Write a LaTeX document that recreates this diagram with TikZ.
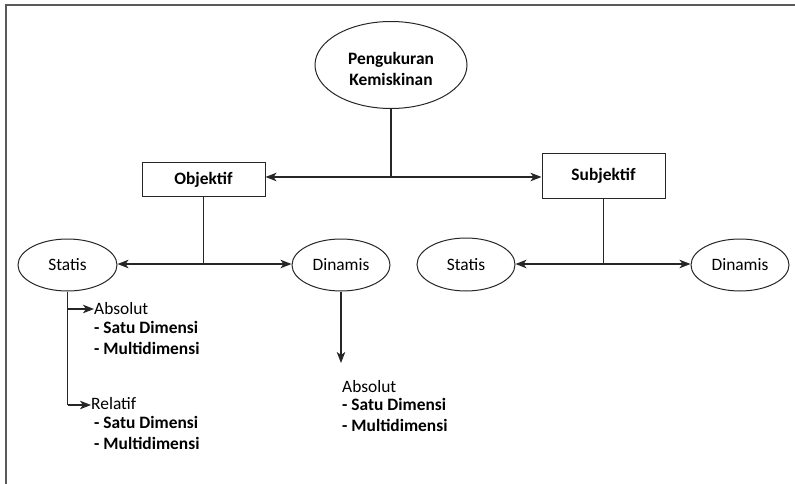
\documentclass[tikz,border=0pt]{standalone}
\usepackage{fontspec}
\setmainfont{Carlito}
\usetikzlibrary{shapes.geometric,arrows.meta}
\begin{document}
\begin{tikzpicture}[x=1pt,y=-1pt,
  font=\fontsize{17.4}{21.5}\selectfont,
  line/.style={draw=black!85,line width=1.2pt},
  arr/.style={line,-{Stealth[length=11pt,width=8.5pt,inset=3pt]}},
  barr/.style={line,{Stealth[length=11pt,width=8.5pt,inset=3pt]}-{Stealth[length=11pt,width=8.5pt,inset=3pt]}},
  oval/.style={ellipse,draw=black!85,line width=1pt,inner sep=0pt},
  box/.style={rectangle,draw=black!85,line width=1pt,inner sep=0pt,font=\fontsize{17.4}{21.5}\selectfont\bfseries},
  txt/.style={inner sep=0pt,anchor=west},
  lst/.style={inner sep=0pt,anchor=north west,align=left,font=\fontsize{17.4}{21.5}\selectfont\bfseries}]
\useasboundingbox (0,0) rectangle (795,484);
% frame
\draw[draw=black!65,line width=1.6pt] (795,5) -- (6,5) -- (6,484);

% nodes
\node[oval,minimum width=152,minimum height=87] (pk) at (391,65) {};
\node[inner sep=0pt,align=center,font=\fontsize{17.4}{21}\selectfont\bfseries]
  (pkt) at ([yshift=-4pt]pk.center) {Pengukuran\\Kemiskinan};
\node[box,minimum width=123,minimum height=34] (obj) at (203.5,179.5) {Objektif};
\node[box,minimum width=123,minimum height=44] (subj) at (603.5,176) {Subjektif};
\node[oval,minimum width=99,minimum height=52] (st1) at (67.5,265) {Statis};
\node[oval,minimum width=98,minimum height=52] (dn1) at (341,265) {Dinamis};
\node[oval,minimum width=98,minimum height=53] (st2) at (466,264.5) {Statis};
\node[oval,minimum width=98,minimum height=52] (dn2) at (740,265) {Dinamis};

\coordinate (j0) at (pk.south |- 0,177);
\coordinate (j1) at (obj.south |- 0,264);
\coordinate (j2) at (subj.south |- 0,264);
\coordinate (b1) at (st1.south |- 0,309);
\coordinate (b2) at (st1.south |- 0,405);

% texts below Statis and Dinamis
\node[txt] (abs1) at (94,309) {Absolut};
\node[lst] (abs1l) at (94,321) {- Satu Dimensi\\- Multidimensi};
\node[txt] (rel1) at (91,404) {Relatif};
\node[lst] (rel1l) at (94,416) {- Satu Dimensi\\- Multidimensi};
\node[txt] (abs2) at (342,387) {Absolut};
\node[lst] (abs2l) at (342,398) {- Satu Dimensi\\- Multidimensi};
\coordinate (dn1end) at (dn1.south |- 0,363);

% connectors
\draw[line] (pk.south) -- (j0);
\draw[barr] (obj.east |- j0) -- (subj.west |- j0);
\draw[line] (obj.south) -- (j1);
\draw[barr] (st1.east |- j1) -- (dn1.west |- j1);
\draw[line] (subj.south) -- (j2);
\draw[barr] (st2.east |- j2) -- (dn2.west |- j2);
\draw[line] (st1.south) -- (b2);
\draw[arr] (b1) -- (abs1.west);
\draw[arr] (b2) -- (rel1.west |- b2);
\draw[arr] (dn1.south) -- (dn1end);
\end{tikzpicture}
\end{document}
